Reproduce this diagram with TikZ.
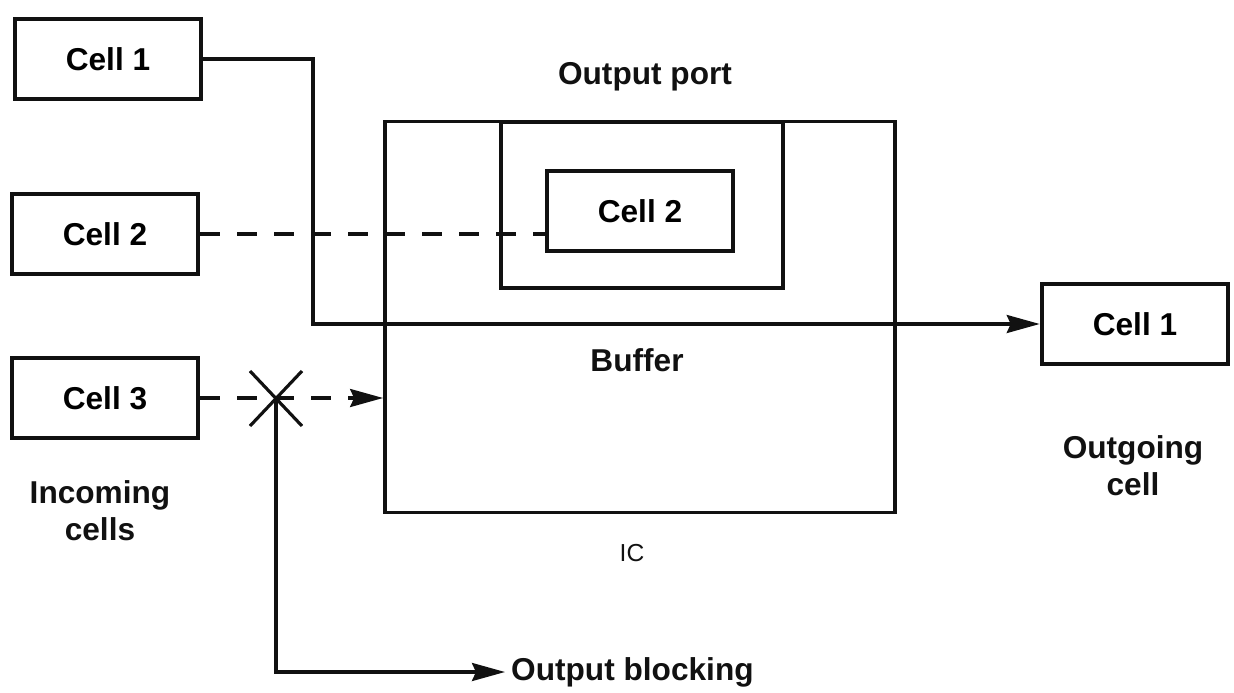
\documentclass[tikz,border=0pt]{standalone}
\usepackage{fontspec}
\setmainfont{Liberation Sans}
\usetikzlibrary{arrows.meta,positioning}
\definecolor{Ink}{HTML}{111111}

\begin{document}
\begin{tikzpicture}[x=0.02cm,y=-0.02cm,
  cellbox/.style={draw=Ink,line width=2.6pt,minimum width=3.72cm,minimum height=1.6cm,font=\fontsize{18}{22}\selectfont\bfseries},
  portbox/.style={draw=Ink,line width=2.2pt},
  lbl/.style={text=Ink,font=\fontsize{18}{21}\selectfont\bfseries,align=center},
  conn/.style={draw=Ink,line width=1.8pt},
  dashline/.style={conn,dash pattern=on 0.4cm off 0.34cm},
  tip/.style={-{Stealth[length=0.66cm,width=0.36cm,inset=0.08cm]}}]
  \useasboundingbox (0,0) rectangle (1234,693);
  \node[portbox,minimum width=10.2cm,minimum height=7.82cm] (ic) at (640,317) {};
  \node[portbox,minimum width=5.64cm,minimum height=3.32cm] (port) at (642,205) {};
  \node[cellbox] (c2in) at (640,211) {Cell 2};
  \node[cellbox] (c1l) at (108,59) {Cell 1};
  \node[cellbox] (c2l) at (105,234) {Cell 2};
  \node[cellbox] (c3l) at (105,398) {Cell 3};
  \node[cellbox] (c1r) at (1135,324) {Cell 1};
  \node[lbl] (portlbl) at (645,77) {Output port};
  \node[lbl] (buflbl) at (637,360) {Buffer};
  \node[text=Ink,font=\fontsize{14}{17}\selectfont] (iclbl) at (632,553) {IC};
  \node[lbl] (inlbl) at (100,511) {Incoming\\cells};
  \node[lbl] (outlbl) at (1133,466) {Outgoing\\cell};
  \node[lbl,anchor=west] (blklbl) at (505,672) {Output blocking};
  \coordinate (turn) at (313,0);
  \coordinate (blk) at (276,398);
  \draw[conn,tip] (c1l.east) -| (turn |- c1r.west) -- (c1r.west);
  \draw[dashline] (c2l.east) -- (c2in.west |- c2l.east);
  \draw[dashline,tip] (c3l.east) -- (ic.west |- c3l.east);
  \draw[conn] (blk) +(-26,-27) -- +(26,28) (blk) +(26,-27) -- +(-26,28);
  \draw[conn,tip] (blk) |- (blklbl.west);
\end{tikzpicture}
\end{document}
